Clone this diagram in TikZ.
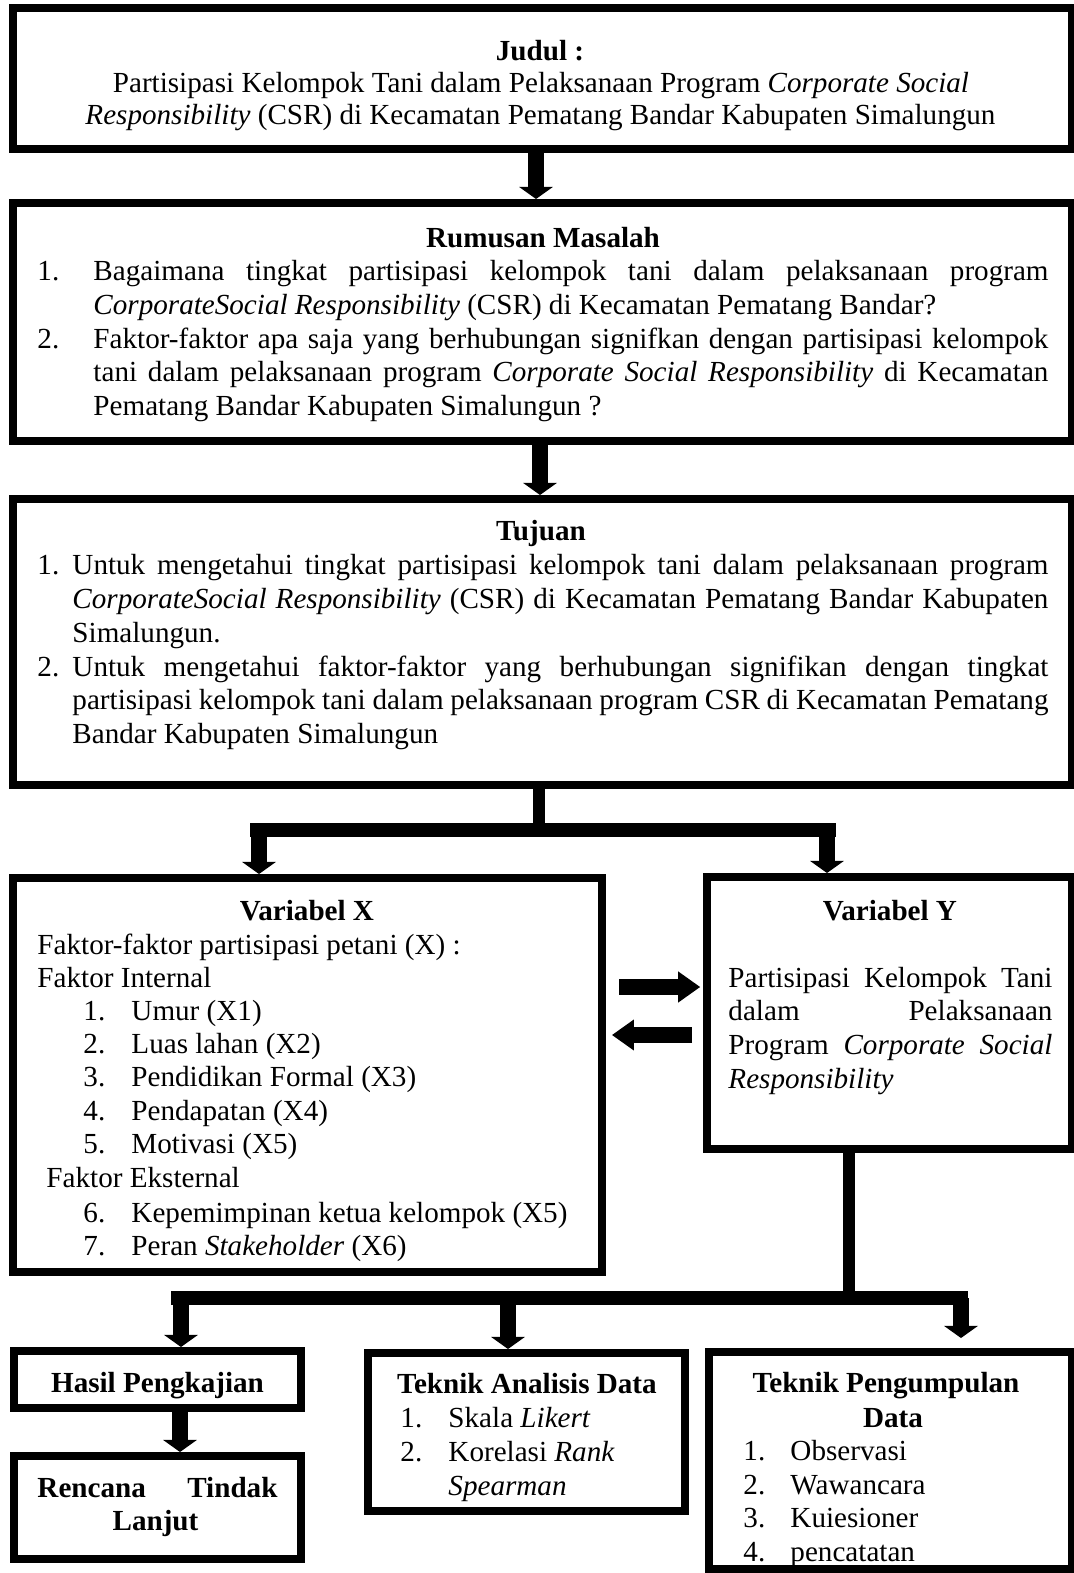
\documentclass[tikz,border=0pt]{standalone}
\usepackage{fontspec}
\setmainfont{Liberation Serif}
\usetikzlibrary{arrows.meta}
\newlength{\pu}\setlength{\pu}{0.412pt}
\newcommand{\jline}[2]{\makebox[#1\pu][s]{#2}}
\tikzset{
  box/.style={draw, line width=3.3pt, inner sep=0pt},
  txt/.style={inner sep=0pt, anchor=base west, font=\fontsize{12pt}{13.8pt}\selectfont},
  ttl/.style={inner sep=0pt, anchor=base, font=\fontsize{12pt}{13.8pt}\selectfont\bfseries},
  downarrow/.style={line width=6.6pt, -{Triangle[width=14pt, length=5pt, line width=0pt]}},
  pipe/.style={line width=4.6pt},
  bar/.style={line width=5.6pt},
  sidearrow/.style={line width=6.4pt, -{Triangle[width=12.8pt, length=9pt, line width=0pt]}}
}

\begin{document}
\begin{tikzpicture}[x=\pu, y=-\pu]
\useasboundingbox (0,0) rectangle (1073,1573);
\fill[white] (0,0) rectangle (1073,1573);
% boxes
\node[box, minimum width=1059*\pu, minimum height=141*\pu] (judul) at (542.5,78.5) {};
\node[box, minimum width=1059*\pu, minimum height=238*\pu] (rumusan) at (542.5,322) {};
\node[box, minimum width=1059*\pu, minimum height=286*\pu] (tujuan) at (542.5,642) {};
\node[box, minimum width=589*\pu, minimum height=394*\pu] (vx) at (307.5,1075) {};
\node[box, minimum width=365*\pu, minimum height=272*\pu] (vy) at (889.5,1013) {};
\node[box, minimum width=287*\pu, minimum height=57*\pu] (hasil) at (157.5,1379.5) {};
\node[box, minimum width=287*\pu, minimum height=103*\pu] (rencana) at (157.5,1507.5) {};
\node[box, minimum width=317*\pu, minimum height=158*\pu] (analisis) at (526.5,1432) {};
\node[box, minimum width=363*\pu, minimum height=217*\pu] (kumpul) at (890.5,1460.5) {};

% judul
\node[ttl] (jt) at (540,60) {Judul :};
\node[txt, anchor=base] (j1) at (541,92) {Partisipasi Kelompok Tani dalam Pelaksanaan Program \textit{Corporate Social}};
\node[txt, anchor=base] (j2) at (540.5,124) {\textit{Responsibility} (CSR) di Kecamatan Pematang Bandar Kabupaten Simalungun};

% rumusan masalah
\node[ttl] (rt) at (543,247) {Rumusan Masalah};
\node[txt] (rn1) at (37,280) {1.};
\node[txt] (r1) at (93,280) {\jline{955}{Bagaimana tingkat partisipasi kelompok tani dalam pelaksanaan program}};
\node[txt] (r2) at (93,314) {\textit{CorporateSocial Responsibility} (CSR) di Kecamatan Pematang Bandar?};
\node[txt] (rn2) at (37,348) {2.};
\node[txt] (r3) at (93,348) {\jline{955}{Faktor-faktor apa saja yang berhubungan signifkan dengan partisipasi kelompok}};
\node[txt] (r4) at (93,381) {\jline{955}{tani dalam pelaksanaan program \textit{Corporate Social Responsibility} di Kecamatan}};
\node[txt] (r5) at (93,415) {Pematang Bandar Kabupaten Simalungun ?};

% tujuan
\node[ttl] (tt) at (541,540) {Tujuan};
\node[txt] (tn1) at (37,574) {1.};
\node[txt] (t1) at (72,574) {\jline{976}{Untuk mengetahui tingkat partisipasi kelompok tani dalam pelaksanaan program}};
\node[txt] (t2) at (72,608) {\jline{976}{\textit{CorporateSocial Responsibility} (CSR) di Kecamatan Pematang Bandar Kabupaten}};
\node[txt] (t3) at (72,642) {Simalungun.};
\node[txt] (tn2) at (37,676) {2.};
\node[txt] (t4) at (72,676) {\jline{976}{Untuk mengetahui faktor-faktor yang berhubungan signifikan dengan tingkat}};
\node[txt] (t5) at (72,709) {\jline{976}{partisipasi kelompok tani dalam pelaksanaan program CSR di Kecamatan Pematang}};
\node[txt] (t6) at (72,743) {Bandar Kabupaten Simalungun};

% variabel x
\node[ttl] (xt) at (307,920) {Variabel X};
\node[txt] (x0) at (37,954) {Faktor-faktor partisipasi petani (X) :};
\node[txt] (xa) at (37,987) {Faktor Internal};
\foreach \n/\t in {1/{Umur (X1)}, 2/{Luas lahan (X2)}, 3/{Pendidikan Formal (X3)}, 4/{Pendapatan (X4)}, 5/{Motivasi (X5)}}{
  \node[txt] (xn\n) at (83,{987+33.3*\n}) {\n.};
  \node[txt] (xi\n) at (131,{987+33.3*\n}) {\t};
}
\node[txt] (xb) at (46,1187) {Faktor Eksternal};
\node[txt] (xn6) at (83,1222) {6.};
\node[txt] (xi6) at (131,1222) {Kepemimpinan ketua kelompok (X5)};
\node[txt] (xn7) at (83,1255) {7.};
\node[txt] (xi7) at (131,1255) {Peran \textit{Stakeholder} (X6)};

% variabel y
\node[ttl] (yt) at (890,920) {Variabel Y};
\node[txt] (y1) at (728,987) {\jline{324}{Partisipasi Kelompok Tani}};
\node[txt] (y2) at (728,1020) {\jline{324}{dalam Pelaksanaan}};
\node[txt] (y3) at (728,1054) {\jline{324}{Program \textit{Corporate Social}}};
\node[txt] (y4) at (728,1088) {\textit{Responsibility}};

% hasil dan rencana
\node[ttl] (ht) at (157.5,1392) {Hasil Pengkajian};
\node[txt, font=\fontsize{12pt}{13.8pt}\selectfont\bfseries] (rc1) at (37,1497) {\jline{240}{Rencana Tindak}};
\node[ttl] (rc2) at (155.5,1530) {Lanjut};

% teknik analisis data
\node[ttl] (at) at (527,1393) {Teknik Analisis Data};
\node[txt] (an1) at (400,1427) {1.};
\node[txt] (a1) at (448,1427) {Skala \textit{Likert}};
\node[txt] (an2) at (400,1461) {2.};
\node[txt] (a2) at (448,1461) {Korelasi \textit{Rank}};
\node[txt] (a3) at (448,1495) {\textit{Spearman}};

% teknik pengumpulan data
\node[ttl] (kt1) at (886,1392) {Teknik Pengumpulan};
\node[ttl] (kt2) at (893,1427) {Data};
\foreach \n/\t/\yy in {1/Observasi/1460, 2/Wawancara/1494, 3/Kuiesioner/1527, 4/pencatatan/1561}{
  \node[txt] (kn\n) at (743,\yy) {\n.};
  \node[txt] (ki\n) at (790,\yy) {\t};
}

% arrows
\draw[downarrow] (judul.south -| 536,0) -- (rumusan.north -| 536,0);
\draw[downarrow] (rumusan.south -| 540,0) -- (tujuan.north -| 540,0);
\coordinate (forkT) at (539,830);
\coordinate (forkTL) at (259,830);
\coordinate (forkTR) at (827,830);
\draw[pipe] (tujuan.south -| forkT) -- (forkT);
\draw[bar] ([xshift=-9*\pu]forkTL) -- ([xshift=9*\pu]forkTR);
\draw[downarrow] (forkTL) -- (vx.north -| forkTL);
\draw[downarrow] (forkTR) -- (vy.north -| forkTR);
\draw[sidearrow, shorten <=5.4pt, shorten >=1.2pt] (vx.east |- 0,987) -- (vy.west |- 0,987);
\draw[sidearrow, shorten <=4.5pt, shorten >=2.5pt] (vy.west |- 0,1035) -- (vx.east |- 0,1035);
\coordinate (forkB) at (849,1298);
\coordinate (forkBL) at (181,1298);
\coordinate (forkBM) at (508,1298);
\coordinate (forkBR) at (961,1298);
\coordinate (kumpulTip) at (961,1338);
\draw[pipe] (vy.south -| forkB) -- (forkB);
\draw[bar] ([xshift=-10*\pu]forkBL) -- ([xshift=7*\pu]forkBR);
\draw[downarrow] (forkBL) -- (hasil.north -| forkBL);
\draw[downarrow] (forkBM) -- (analisis.north -| forkBM);
\draw[downarrow] (forkBR) -- (kumpulTip);
\draw[downarrow] (hasil.south -| 180,0) -- (rencana.north -| 180,0);
\end{tikzpicture}
\end{document}
